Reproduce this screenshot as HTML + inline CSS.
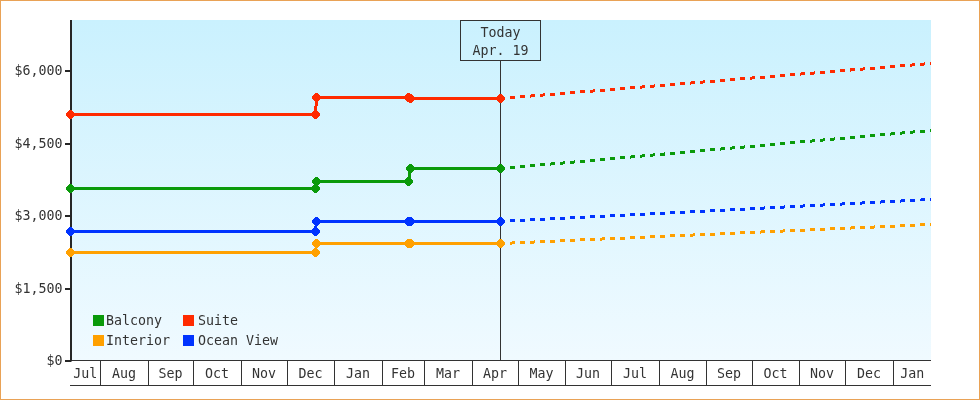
<!DOCTYPE html>
<html><head><meta charset="utf-8"><title>Price chart</title>
<style>
html,body{margin:0;padding:0;background:#fff;}
body{width:980px;height:400px;overflow:hidden;position:relative;}
#frame{position:absolute;left:0;top:0;width:978px;height:398px;border:1px solid #e9a256;}
svg{position:absolute;left:0;top:0;}
text{font-family:"DejaVu Sans Mono","Liberation Mono",monospace;font-size:13.3px;fill:#333;}
</style></head><body>
<div id="frame"></div>
<svg width="980" height="400" viewBox="0 0 980 400">
<defs>
<linearGradient id="bg" x1="0" y1="0" x2="0" y2="1"><stop offset="0" stop-color="#caf1fe"/><stop offset="1" stop-color="#f0faff"/></linearGradient>
<clipPath id="plot"><rect x="60" y="20" width="871" height="341"/></clipPath>
<path id="m" d="M-1.5,-4.5H1.5V-3.5H2.5V-2.5H3.5V-1.5H4.5V1.5H3.5V2.5H2.5V3.5H1.5V4.5H-1.5V3.5H-2.5V2.5H-3.5V1.5H-4.5V-1.5H-3.5V-2.5H-2.5V-3.5H-1.5Z"/>
</defs>
<rect x="72" y="20" width="859" height="340" fill="url(#bg)"/>

<g stroke="#333" stroke-width="1" shape-rendering="crispEdges">
<line x1="70" y1="360.5" x2="931" y2="360.5"/>
<line x1="70" y1="385.5" x2="931" y2="385.5"/>
<line x1="100.5" y1="360" x2="100.5" y2="386"/>
<line x1="148.5" y1="360" x2="148.5" y2="386"/>
<line x1="193.5" y1="360" x2="193.5" y2="386"/>
<line x1="241.5" y1="360" x2="241.5" y2="386"/>
<line x1="287.5" y1="360" x2="287.5" y2="386"/>
<line x1="334.5" y1="360" x2="334.5" y2="386"/>
<line x1="382.5" y1="360" x2="382.5" y2="386"/>
<line x1="424.5" y1="360" x2="424.5" y2="386"/>
<line x1="472.5" y1="360" x2="472.5" y2="386"/>
<line x1="518.5" y1="360" x2="518.5" y2="386"/>
<line x1="565.5" y1="360" x2="565.5" y2="386"/>
<line x1="611.5" y1="360" x2="611.5" y2="386"/>
<line x1="659.5" y1="360" x2="659.5" y2="386"/>
<line x1="706.5" y1="360" x2="706.5" y2="386"/>
<line x1="752.5" y1="360" x2="752.5" y2="386"/>
<line x1="799.5" y1="360" x2="799.5" y2="386"/>
<line x1="845.5" y1="360" x2="845.5" y2="386"/>
<line x1="893.5" y1="360" x2="893.5" y2="386"/>
<line x1="500.5" y1="60" x2="500.5" y2="360"/>
</g>
<text x="85.3" y="378" text-anchor="middle">Jul</text>
<text x="124.0" y="378" text-anchor="middle">Aug</text>
<text x="170.5" y="378" text-anchor="middle">Sep</text>
<text x="217.0" y="378" text-anchor="middle">Oct</text>
<text x="264.0" y="378" text-anchor="middle">Nov</text>
<text x="310.5" y="378" text-anchor="middle">Dec</text>
<text x="358.0" y="378" text-anchor="middle">Jan</text>
<text x="403.0" y="378" text-anchor="middle">Feb</text>
<text x="448.0" y="378" text-anchor="middle">Mar</text>
<text x="495.0" y="378" text-anchor="middle">Apr</text>
<text x="541.5" y="378" text-anchor="middle">May</text>
<text x="588.0" y="378" text-anchor="middle">Jun</text>
<text x="635.0" y="378" text-anchor="middle">Jul</text>
<text x="682.5" y="378" text-anchor="middle">Aug</text>
<text x="729.0" y="378" text-anchor="middle">Sep</text>
<text x="775.5" y="378" text-anchor="middle">Oct</text>
<text x="822.0" y="378" text-anchor="middle">Nov</text>
<text x="869.0" y="378" text-anchor="middle">Dec</text>
<text x="912.2" y="378" text-anchor="middle">Jan</text>
<rect x="70" y="20" width="2" height="341.5" fill="#262626"/>
<rect x="65" y="70" width="6" height="2" fill="#262626"/>
<text x="62.5" y="75.3" text-anchor="end">$6,000</text>
<rect x="65" y="143" width="6" height="2" fill="#262626"/>
<text x="62.5" y="148" text-anchor="end">$4,500</text>
<rect x="65" y="215" width="6" height="2" fill="#262626"/>
<text x="62.5" y="220.2" text-anchor="end">$3,000</text>
<rect x="65" y="288" width="6" height="2" fill="#262626"/>
<text x="62.5" y="293" text-anchor="end">$1,500</text>
<rect x="65" y="360" width="6" height="2" fill="#262626"/>
<text x="62.5" y="365" text-anchor="end">$0</text>
<rect x="460.5" y="20.5" width="80" height="40" fill="none" stroke="#333" stroke-width="1" shape-rendering="crispEdges"/>
<text x="500.5" y="37" text-anchor="middle">Today</text>
<text x="500.5" y="55" text-anchor="middle">Apr. 19</text>
<g clip-path="url(#plot)">
<polyline points="70.5,252.5 315.5,252.5 316.5,243.5 408.5,243.5 410.5,243.5 500.5,243.5" fill="none" stroke="#ffa000" stroke-width="3" stroke-linejoin="round" shape-rendering="crispEdges"/>
<line x1="500.5" y1="243.5" x2="940" y2="224.08" stroke="#ffa000" stroke-width="3" stroke-dasharray="5.005 5.005" stroke-dashoffset="0.500" shape-rendering="crispEdges"/>
<g fill="#ffa000"><use href="#m" x="70.5" y="252.5"/><use href="#m" x="315.5" y="252.5"/><use href="#m" x="316.5" y="243.5"/><use href="#m" x="408.5" y="243.5"/><use href="#m" x="410.5" y="243.5"/><use href="#m" x="500.5" y="243.5"/></g>
<polyline points="70.5,231.5 315.5,231.5 316.5,221.5 408.5,221.5 410.5,221.5 500.5,221.5" fill="none" stroke="#0033ff" stroke-width="3" stroke-linejoin="round" shape-rendering="crispEdges"/>
<line x1="500.5" y1="221.5" x2="940" y2="199.01" stroke="#0033ff" stroke-width="3" stroke-dasharray="5.007 5.007" stroke-dashoffset="0.501" shape-rendering="crispEdges"/>
<g fill="#0033ff"><use href="#m" x="70.5" y="231.5"/><use href="#m" x="315.5" y="231.5"/><use href="#m" x="316.5" y="221.5"/><use href="#m" x="408.5" y="221.5"/><use href="#m" x="410.5" y="221.5"/><use href="#m" x="500.5" y="221.5"/></g>
<polyline points="70.5,188.5 315.5,188.5 316.5,181.5 408.5,181.5 410.5,168.5 500.5,168.5" fill="none" stroke="#0a9a0a" stroke-width="3" stroke-linejoin="round" shape-rendering="crispEdges"/>
<line x1="500.5" y1="168.5" x2="940" y2="129.66" stroke="#0a9a0a" stroke-width="3" stroke-dasharray="5.019 5.019" stroke-dashoffset="0.502" shape-rendering="crispEdges"/>
<g fill="#0a9a0a"><use href="#m" x="70.5" y="188.5"/><use href="#m" x="315.5" y="188.5"/><use href="#m" x="316.5" y="181.5"/><use href="#m" x="408.5" y="181.5"/><use href="#m" x="410.5" y="168.5"/><use href="#m" x="500.5" y="168.5"/></g>
<polyline points="70.5,114.5 315.5,114.5 316.5,97.5 408.5,97.5 410.5,98.5 500.5,98.5" fill="none" stroke="#ff2a00" stroke-width="3" stroke-linejoin="round" shape-rendering="crispEdges"/>
<line x1="500.5" y1="98.5" x2="940" y2="62.73" stroke="#ff2a00" stroke-width="3" stroke-dasharray="5.017 5.017" stroke-dashoffset="0.502" shape-rendering="crispEdges"/>
<g fill="#ff2a00"><use href="#m" x="70.5" y="114.5"/><use href="#m" x="315.5" y="114.5"/><use href="#m" x="316.5" y="97.5"/><use href="#m" x="408.5" y="97.5"/><use href="#m" x="410.5" y="98.5"/><use href="#m" x="500.5" y="98.5"/></g>
</g>
<rect x="93" y="315" width="11" height="11" fill="#0a9a0a"/>
<text x="106" y="325">Balcony</text>
<rect x="183" y="315" width="11" height="11" fill="#ff2a00"/>
<text x="198" y="325">Suite</text>
<rect x="93" y="335" width="11" height="11" fill="#ffa000"/>
<text x="106" y="345">Interior</text>
<rect x="183" y="335" width="11" height="11" fill="#0033ff"/>
<text x="198" y="345">Ocean View</text>
</svg></body></html>
